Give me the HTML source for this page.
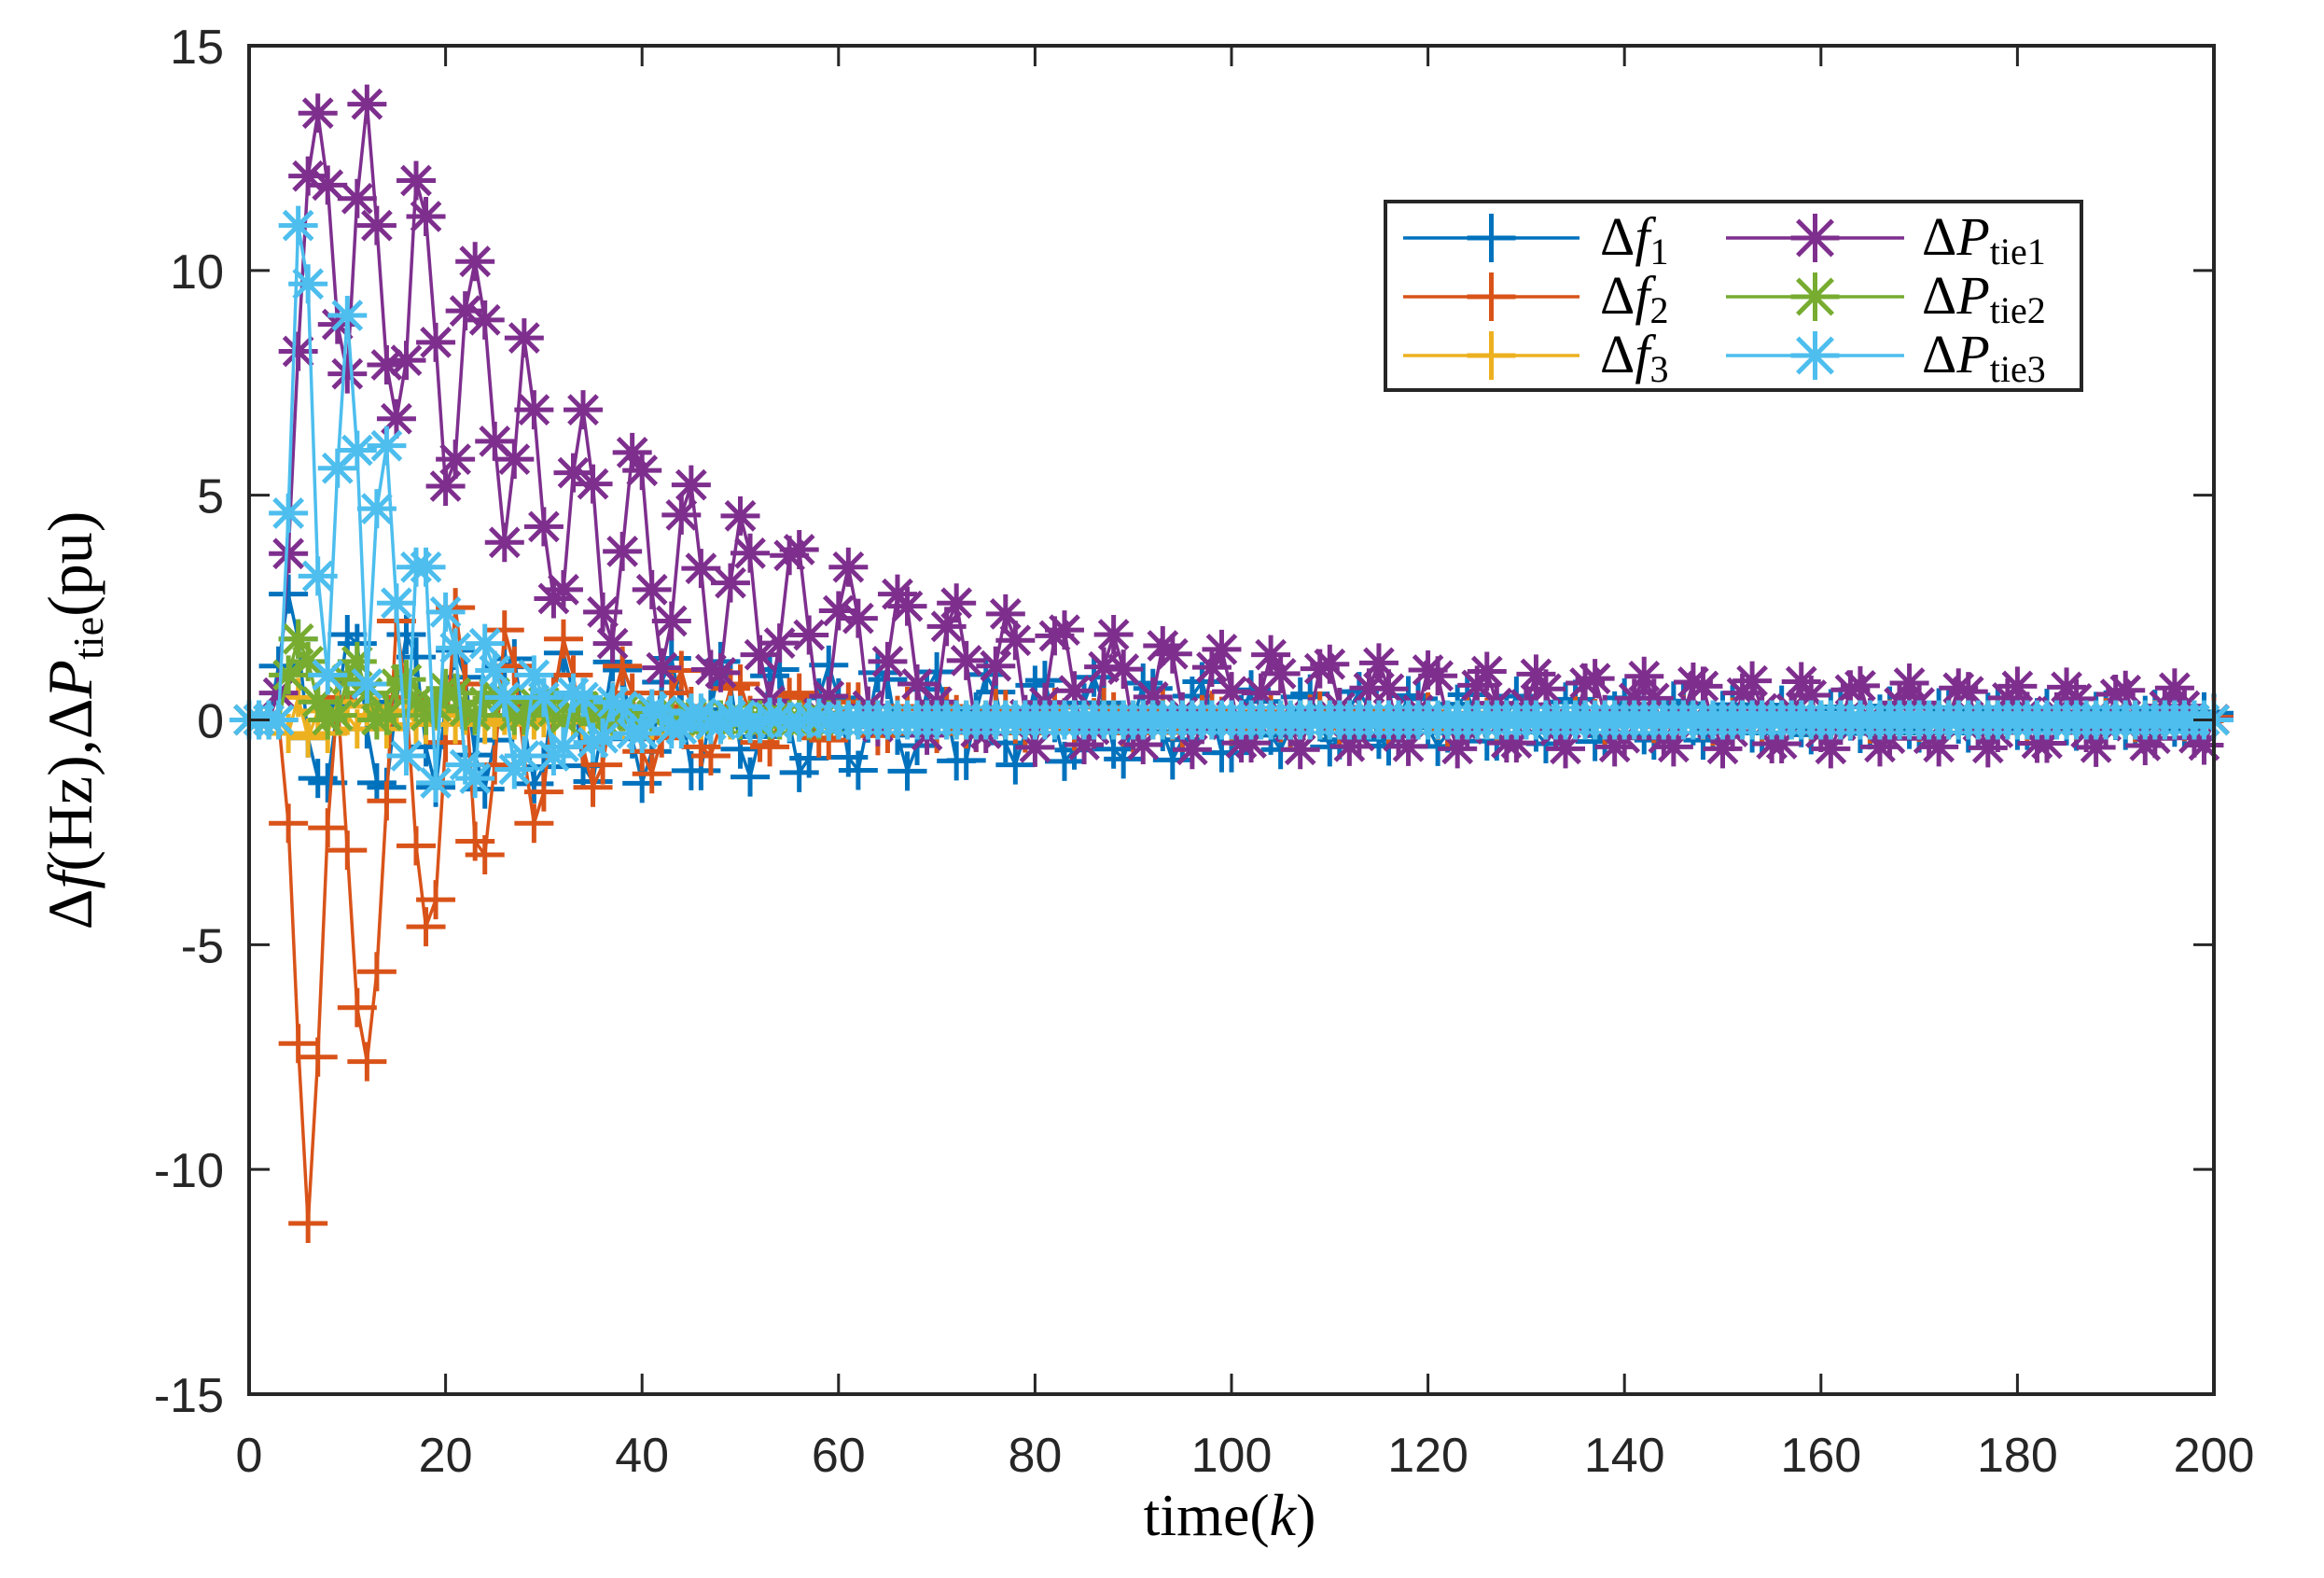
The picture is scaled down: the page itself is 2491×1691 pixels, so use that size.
<!DOCTYPE html>
<html><head><meta charset="utf-8">
<style>
html,body{margin:0;padding:0;background:#fff;}
svg{display:block;}
.tick{font-family:"Liberation Sans",Arial,sans-serif;font-size:52px;fill:#262626;}
.ser{font-family:"Liberation Serif","Times New Roman",serif;fill:#000;}
</style></head>
<body>
<svg id="chart" width="2491" height="1691" viewBox="0 0 2491 1691" xmlns="http://www.w3.org/2000/svg">
  <rect x="0" y="0" width="2491" height="1691" fill="#fff"/>
  <g id="series"></g>
  <g id="axes"></g>
  <text class="ser" x="1318" y="1645" font-size="64" text-anchor="middle">time(<tspan font-style="italic">k</tspan>)</text>
  <text class="ser" transform="translate(98,772) rotate(-90)" font-size="68" text-anchor="middle">Δ<tspan font-style="italic">f</tspan>(Hz),Δ<tspan font-style="italic">P</tspan><tspan font-size="46" dy="12">tie</tspan><tspan dy="-12">(pu)</tspan></text>
  <g id="legend"></g>
</svg>
<script>
const xTicks = [0,20,40,60,80,100,120,140,160,180,200];
const yTicks = [-15,-10,-5,0,5,10,15];
const seriesNames = ["f1","f2","f3","ptie1","ptie2","ptie3"];
const f1 = [0,0,0,1.2,2.8,1.8,-0.4,-1.3,-1.4,0.3,
1.9,1.7,-0.2,-1.4,-1.5,0.4,1.9,1.4,-0.6,-1.5,
0.3,1.55,0.95,-0.78,-1.54,-0.45,1.18,1.36,-0.09,-1.42,
-1.04,0.6,1.49,0.59,-1.02,-1.37,-0.09,1.29,1.11,-0.42,
-1.41,-0.7,0.84,1.37,0.24,-1.13,-1.13,0.23,1.3,0.8,
-0.65,-1.27,-0.37,0.98,1.12,-0.08,-1.17,-0.85,0.49,1.22,
0.49,-0.83,-1.12,-0.07,1.05,0.9,-0.34,-1.14,-0.57,0.68,
1.07,0.19,-0.91,-0.9,0.18,1.01,0.62,-0.51,-1.0,-0.29,
0.77,0.88,-0.06,-0.92,-0.67,0.38,0.95,0.38,-0.65,-0.87,
-0.06,0.82,0.7,-0.26,-0.89,-0.44,0.53,0.85,0.15,-0.73,
-0.73,0.12,0.67,0.41,-0.34,-0.66,-0.19,0.51,0.58,-0.04,
-0.6,-0.44,0.25,0.63,0.25,-0.43,-0.58,-0.04,0.54,0.47,
-0.17,-0.59,-0.29,0.35,0.56,0.1,-0.47,-0.47,0.09,0.53,
0.33,-0.27,-0.53,-0.15,0.4,0.46,-0.03,-0.48,-0.35,0.2,
0.49,0.19,-0.33,-0.45,-0.03,0.42,0.36,-0.13,-0.45,-0.23,
0.21,0.34,0.06,-0.29,-0.29,0.06,0.33,0.2,-0.17,-0.33,
-0.1,0.25,0.29,-0.02,-0.3,-0.22,0.13,0.31,0.12,-0.21,
-0.29,-0.02,0.27,0.23,-0.09,-0.29,-0.14,0.17,0.27,0.05,
-0.23,-0.23,0.05,0.26,0.16,-0.13,-0.25,-0.07,0.19,0.22,
-0.01,-0.23,-0.17,0.1,0.24,0.1,-0.16,-0.2,-0.01,0.18,0.15];
const f2 = [0,0,0,0,-2.3,-7.2,-11.2,-7.5,-2.4,0.5,
-2.9,-6.4,-7.6,-5.6,-1.8,2.2,0.5,-2.8,-4.6,-4.0,
-0.5,2.5,0.8,-2.7,-3.0,-1.0,2.0,1.2,-0.8,-2.3,
-1.6,0.5,1.8,1.0,-0.6,-1.5,-1.0,0.4,1.2,0.6,
-0.7,-1.2,-0.4,0.6,1.1,0.3,-0.6,-0.8,-0.1,0.7,
0.8,0.1,-0.5,-0.6,0.0,0.5,0.6,0.1,-0.4,-0.45,
0,0.4,0.4,0,-0.35,-0.3,0.1,0.3,0.25,-0.1,
-0.3,
0.3,0.12,-0.2,-0.28,-0.02,0.26,0.23,-0.09,-0.29,-0.15,0.18,0.28,0.05,-0.25,-0.25,0.05,0.28,0.18,-0.15,-0.29,-0.09,0.23,0.26,-0.02,-0.28,-0.2,0.12,
0.21,0.08,-0.14,-0.2,-0.01,0.18,0.16,-0.06,-0.2,-0.1,0.13,0.2,0.04,-0.18,-0.18,0.04,0.2,0.13,-0.1,-0.2,-0.06,0.16,0.18,-0.01,-0.2,-0.14,0.08,
0.15,0.06,-0.1,-0.14,-0.01,0.13,0.12,-0.05,-0.15,-0.08,0.09,0.14,0.03,-0.13,-0.13,0.03,0.14,0.09,-0.08,-0.15,-0.05,0.12,0.13,-0.01,-0.14,-0.1,0.06,
0.1,0.04,-0.07,-0.1,0,0.09,0.08,-0.03,-0.1,-0.05,0.06,0.1,0.02,-0.09,-0.09,0.02,0.1,0.06,-0.05,-0.1,-0.03,0.08,0.09,0,-0.1,-0.07,0.04,
0.08,0.03,-0.05,-0.07,0,0.07,0.06,-0.02,-0.07,-0.04,0.05,0.07,0.01,-0.06,-0.06,0.01,0.07,0.05,-0.04,-0.07,-0.02,0.06];
const f3 = [0,0,0,0,-0.3,0.5,-0.4,0.2,-0.3,0.4,
0.1,-0.2,0.3,0.1,-0.2,0.2,0.2,-0.1,-0.1,0.2,
0.1,-0.1,0.1,0.1,-0.1,0,0.1,0,-0.1,0,
0.05,-0.05,0,0.05,0,-0.05,0,0.05,0,-0.05,
0,0,0,0,0,0,0,0,0,0, 0,0,0,0,0,0,0,0,0,0, 0,0,0,0,0,0,0,0,0,0, 0,0,0,0,0,0,0,0,0,0,
0,0,0,0,0,0,0,0,0,0, 0,0,0,0,0,0,0,0,0,0, 0,0,0,0,0,0,0,0,0,0, 0,0,0,0,0,0,0,0,0,0,
0,0,0,0,0,0,0,0,0,0, 0,0,0,0,0,0,0,0,0,0, 0,0,0,0,0,0,0,0,0,0, 0,0,0,0,0,0,0,0,0,0,
0,0,0,0,0,0,0,0,0,0, 0,0,0,0,0,0,0,0,0,0, 0,0,0,0,0,0,0,0,0,0, 0,0,0,0,0,0,0,0,0,0, 0];
const ptie1 = [0,0,0,0.6,3.7,8.2,12.1,13.5,11.9,8.8,
7.7,11.6,13.7,11.0,7.9,6.7,8.0,12.0,11.2,8.4,
5.2,5.8,9.1,10.2,8.9,6.2,3.95,5.8,8.5,6.9,
4.3,2.7,2.9,5.5,6.9,5.25,2.4,1.7,3.75,5.95,
5.55,2.9,1.16,2.2,4.56,5.23,3.37,1.12,1.05,3.05,
4.54,3.71,1.45,0.42,1.71,3.66,3.79,1.89,0.15,0.53,
2.43,3.4,2.26,0.31,-0.15,1.3,2.8,2.53,0.8,-0.34,
0.4,2.08,2.6,1.32,-0.27,-0.3,1.2,2.36,1.77,0.12,
-0.61,0.39,1.87,2.0,0.65,-0.55,-0.21,1.18,1.9,1.13,
-0.23,-0.55,0.51,1.65,1.47,0.18,-0.66,-0.1,1.17,1.57,
0.63,-0.51,-0.51,0.6,1.45,1.03,-0.15,-0.66,0.07,1.14,
1.24,0.28,-0.59,-0.35,0.71,1.27,0.69,-0.36,-0.59,0.22,
1.11,0.98,0.0,-0.64,-0.2,0.77,1.08,0.37,-0.51,-0.51,
0.34,1.02,0.69,-0.23,-0.64,-0.06,0.82,0.92,0.12,-0.6,
-0.4,0.48,0.97,0.48,-0.4,-0.6,0.1,0.84,0.75,-0.09,
-0.64,-0.26,0.6,0.87,0.25,-0.53,-0.53,0.24,0.85,0.55,
-0.28,-0.64,-0.12,0.67,0.76,0.05,-0.6,-0.41,0.38,0.82,
0.38,-0.41,-0.6,0.04,0.71,0.63,-0.13,-0.62,-0.28,0.49,
0.75,0.19,-0.52,-0.52,0.18,0.73,0.47,-0.28,-0.61,-0.13,
0.57,0.66,0.02,-0.57,-0.41,0.31,0.71,0.31,-0.4,-0.56,0.01];
const ptie2 = [0,0,0,0,1.0,1.8,1.3,0.4,0.0,0.1,
0.9,1.3,0.6,0.0,0.1,0.8,0.9,0.4,0.1,0.3,
0.7,0.6,0.2,0.1,0.4,0.6,0.4,0.1,0.1,0.4,
0.4,0.2,0.0,0.2,0.3,0.2,0.0,0.1,0.2,0.1,
0,0.1,0.15,0.05,0,0.1,0.1,0,0,0.05,
0,0,0,0,0,0,0,0,0,0, 0,0,0,0,0,0,0,0,0,0, 0,0,0,0,0,0,0,0,0,0, 0,0,0,0,0,0,0,0,0,0, 0,0,0,0,0,0,0,0,0,0,
0,0,0,0,0,0,0,0,0,0, 0,0,0,0,0,0,0,0,0,0, 0,0,0,0,0,0,0,0,0,0, 0,0,0,0,0,0,0,0,0,0, 0,0,0,0,0,0,0,0,0,0,
0,0,0,0,0,0,0,0,0,0, 0,0,0,0,0,0,0,0,0,0, 0,0,0,0,0,0,0,0,0,0, 0,0,0,0,0,0,0,0,0,0, 0,0,0,0,0,0,0,0,0,0, 0];
const ptie3 = [0,0,0,0,4.6,11.0,9.7,3.2,1.0,5.6,
9.0,6.0,0.8,4.7,6.1,2.6,-0.8,3.4,3.4,-1.4,
2.4,1.6,-1.0,-1.3,1.7,1.1,0.5,-1.1,-0.8,1.0,
0.5,-0.8,-0.6,0.6,0.5,-0.5,-0.4,0.4,0.3,-0.3,
-0.3,0.25,0.2,-0.2,-0.2,0.15,0.15,-0.1,-0.1,0.1,
0.1,-0.08,-0.08,0.06,0.06,-0.05,-0.05,0.04,0.04,-0.03,
0,0,0,0,0,0,0,0,0,0, 0,0,0,0,0,0,0,0,0,0, 0,0,0,0,0,0,0,0,0,0, 0,0,0,0,0,0,0,0,0,0, 0,0,0,0,0,0,0,0,0,0,
0,0,0,0,0,0,0,0,0,0, 0,0,0,0,0,0,0,0,0,0, 0,0,0,0,0,0,0,0,0,0, 0,0,0,0,0,0,0,0,0,0, 0,0,0,0,0,0,0,0,0,0,
0,0,0,0,0,0,0,0,0,0, 0,0,0,0,0,0,0,0,0,0, 0,0,0,0,0,0,0,0,0,0, 0,0,0,0,0,0,0,0,0,0, 0];

const NS = "http://www.w3.org/2000/svg";
const L = 267, R = 2373, T = 49, B = 1494;
const xMin = 0, xMax = 200, yMin = -15, yMax = 15;
function xs(v){ return L + (v - xMin) / (xMax - xMin) * (R - L); }
function ys(v){ return B - (v - yMin) / (yMax - yMin) * (B - T); }
function mk(tag, attrs, parent){
  const e = document.createElementNS(NS, tag);
  for (const k in attrs) e.setAttribute(k, attrs[k]);
  parent.appendChild(e);
  return e;
}
const axes = document.getElementById("axes");
const seriesG = document.getElementById("series");
const legend = document.getElementById("legend");
const dark = "#262626";

const box = mk("rect", {x:L, y:T, width:R-L, height:B-T, fill:"none", stroke:dark, "stroke-width":4}, axes);



xTicks.forEach(v => {
  const x = xs(v);
  const t1 = mk("line", {x1:x, y1:B, x2:x, y2:B-22, stroke:dark, "stroke-width":3}, axes);
  
  
  const t2 = mk("line", {x1:x, y1:T, x2:x, y2:T+22, stroke:dark, "stroke-width":3}, axes);
  
  
  const lb = mk("text", {x:x, y:1577, "text-anchor":"middle", class:"tick"}, axes);
  lb.textContent = String(v);
  
  
});
yTicks.forEach(v => {
  const y = ys(v);
  const t1 = mk("line", {x1:L, y1:y, x2:L+22, y2:y, stroke:dark, "stroke-width":3}, axes);
  
  
  const t2 = mk("line", {x1:R, y1:y, x2:R-22, y2:y, stroke:dark, "stroke-width":3}, axes);
  
  
  const lb = mk("text", {x:240, y:y+19, "text-anchor":"end", class:"tick"}, axes);
  lb.textContent = String(v);
  
  
});

function markerPath(cx, cy, type, r){
  let d = "M" + (cx-r) + " " + cy + "H" + (cx+r) + "M" + cx + " " + (cy-r) + "V" + (cy+r);
  if (type === "star") {
    const q = r * 0.72;
    d += "M" + (cx-q) + " " + (cy-q) + "L" + (cx+q) + " " + (cy+q) +
         "M" + (cx-q) + " " + (cy+q) + "L" + (cx+q) + " " + (cy-q);
  }
  return d;
}

const defs = [
  {name:"f1", data:f1, color:"#0072BD", type:"plus"},
  {name:"f2", data:f2, color:"#D95319", type:"plus"},
  {name:"f3", data:f3, color:"#EDB120", type:"plus"},
  {name:"ptie1", data:ptie1, color:"#7E2F8E", type:"star"},
  {name:"ptie2", data:ptie2, color:"#77AC30", type:"star"},
  {name:"ptie3", data:ptie3, color:"#4DBEEE", type:"star"}
];

defs.forEach(s => {
  const g = mk("g", {}, seriesG);
  
  
  let d = "";
  s.data.forEach((v, i) => { d += (i ? "L" : "M") + xs(i).toFixed(1) + " " + ys(v).toFixed(1); });
  const line = mk("path", {d:d, fill:"none", stroke:s.color, "stroke-width":3.5, "stroke-linejoin":"round"}, g);
  
  
  s.data.forEach((v, i) => {
    const m = mk("path", {d:markerPath(xs(i), ys(v), s.type, 21), fill:"none", stroke:s.color, "stroke-width":5}, g);
    
    
  });
});

const lb = mk("rect", {x:1485, y:216, width:746, height:202, fill:"#fff", stroke:dark, "stroke-width":4}, legend);


const rowsY = [255, 318, 381];
const legLabels = [["f","1"],["f","2"],["f","3"],["P","tie1"],["P","tie2"],["P","tie3"]];
defs.forEach((s, i) => {
  const col = i < 3 ? 0 : 1;
  const y = rowsY[i % 3];
  const x0 = col ? 1850 : 1504, x1 = col ? 2041 : 1693;
  const cx = (x0 + x1) / 2;
  const e = mk("g", {}, legend);
  
  
  mk("line", {x1:x0, y1:y, x2:x1, y2:y, stroke:s.color, "stroke-width":3.5}, e);
  mk("path", {d:markerPath(cx, y, s.type, 26), fill:"none", stroke:s.color, "stroke-width":5}, e);
  const tx = mk("text", {x: col ? 2060 : 1715, y: y + 18, class:"ser", "font-size":58}, e);
  tx.innerHTML = 'Δ<tspan font-style="italic">' + legLabels[i][0] + '</tspan><tspan font-size="40" dy="10">' + legLabels[i][1] + '</tspan>';
  
  
});
</script>
</body></html>
